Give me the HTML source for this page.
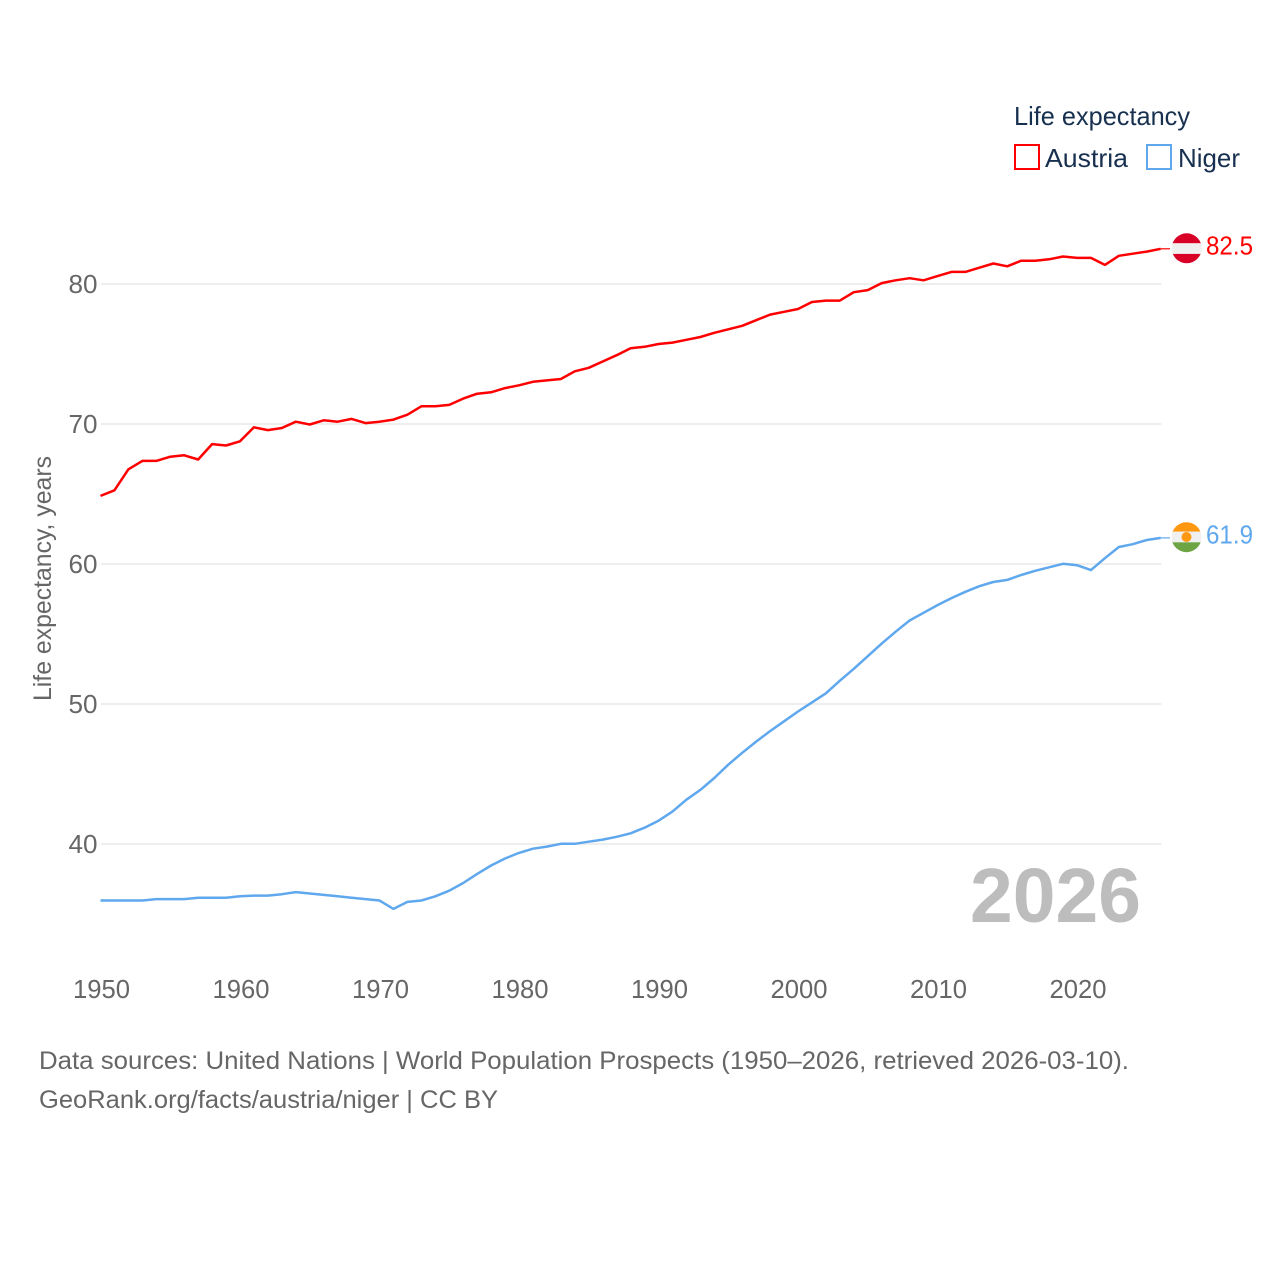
<!DOCTYPE html>
<html lang="en">
<head>
<meta charset="utf-8">
<title>Life expectancy: Austria and Niger</title>
<style>
html,body{margin:0;padding:0;background:#fff;width:1280px;height:1280px;overflow:hidden}
svg{display:block}
text{font-family:"Liberation Sans",sans-serif}
</style>
</head>
<body>
<svg id="chart" xmlns="http://www.w3.org/2000/svg" width="1280" height="1280" viewBox="0 0 1280 1280">
  <defs>
    <clipPath id="flag-clip-top"><circle cx="1186.7" cy="248.3" r="15"></circle></clipPath>
    <clipPath id="flag-clip-bottom"><circle cx="1186.5" cy="537.2" r="15"></circle></clipPath>
  </defs>
  <rect width="1280" height="1280" fill="#fff"></rect>
  <g id="grid"></g>
  <g id="yticks"></g>
  <g id="xticks"></g>
  <text transform="translate(51,701) rotate(-90)" font-size="25" fill="#666" textLength="245" lengthAdjust="spacingAndGlyphs">Life expectancy, years</text>
  <text x="970" y="922" font-size="77" font-weight="700" fill="#bdbdbd" textLength="171" lengthAdjust="spacingAndGlyphs">2026</text>
  <g id="series"></g>

  <g>
    <text x="1014" y="125" font-size="26" fill="#18304f" textLength="176" lengthAdjust="spacingAndGlyphs">Life expectancy</text>
    <g>
      <rect x="1015" y="145" width="24" height="24" fill="none" stroke="#ff0000" stroke-width="2"></rect>
      <text x="1045" y="167" font-size="26" fill="#18304f" textLength="83" lengthAdjust="spacingAndGlyphs">Austria</text>
    </g>
    <g>
      <rect x="1147" y="145" width="24" height="24" fill="none" stroke="#5fa8ee" stroke-width="2"></rect>
      <text x="1178" y="167" font-size="26" fill="#18304f" textLength="62" lengthAdjust="spacingAndGlyphs">Niger</text>
    </g>
  </g>

  <g clip-path="url(#flag-clip-top)">
    <rect x="1171" y="233" width="32" height="10.3" fill="#d80027"></rect>
    <rect x="1171" y="243.3" width="32" height="10.6" fill="#f0f0f0"></rect>
    <rect x="1171" y="253.9" width="32" height="10" fill="#d80027"></rect>
  </g>
  <g clip-path="url(#flag-clip-bottom)">
    <rect x="1171" y="522" width="32" height="9.7" fill="#ff9811"></rect>
    <rect x="1171" y="531.7" width="32" height="10.6" fill="#f0f0f0"></rect>
    <rect x="1171" y="542.3" width="32" height="10.5" fill="#6da544"></rect>
    <circle cx="1186.5" cy="537" r="5" fill="#ff9811"></circle>
  </g>

  <g>
    <text x="39" y="1069" font-size="25" fill="#666" textLength="1090" lengthAdjust="spacingAndGlyphs">Data sources: United Nations | World Population Prospects (1950–2026, retrieved 2026-03-10).</text>
    <text x="39" y="1108" font-size="25" fill="#666" textLength="459" lengthAdjust="spacingAndGlyphs">GeoRank.org/facts/austria/niger | CC BY</text>
  </g>
</svg>
<script>
const yTickValues = [40, 50, 60, 70, 80];
const xTickValues = [1950, 1960, 1970, 1980, 1990, 2000, 2010, 2020];
const firstYear = 1950;
const austriaValues = [
  64.9, 65.3, 66.8, 67.4, 67.4, 67.7, 67.8, 67.5, 68.6, 68.5,
  68.8, 69.8, 69.6, 69.75, 70.2, 70.0, 70.3, 70.2, 70.4, 70.1,
  70.2, 70.35, 70.7, 71.3, 71.3, 71.4, 71.85, 72.2, 72.3, 72.6,
  72.8, 73.05, 73.15, 73.25, 73.8, 74.05, 74.5, 74.95, 75.45, 75.55,
  75.75, 75.85, 76.05, 76.25, 76.55, 76.8, 77.05, 77.45, 77.85, 78.05,
  78.25, 78.75, 78.85, 78.85, 79.45, 79.6, 80.1, 80.3, 80.45, 80.3,
  80.6, 80.9, 80.9, 81.2, 81.5, 81.3, 81.7, 81.7, 81.8, 82.0,
  81.9, 81.9, 81.4, 82.05, 82.2, 82.35, 82.55
];
const nigerValues = [
  36.0, 36.0, 36.0, 36.0, 36.1, 36.1, 36.1, 36.2, 36.2, 36.2,
  36.3, 36.35, 36.35, 36.45, 36.6, 36.5, 36.4, 36.3, 36.2, 36.1,
  36.0, 35.4, 35.9, 36.0, 36.3, 36.7, 37.25, 37.9, 38.5, 39.0,
  39.4, 39.7, 39.85, 40.05, 40.05, 40.2, 40.35, 40.55, 40.8, 41.2,
  41.7, 42.35, 43.2, 43.9, 44.75, 45.7, 46.55, 47.35, 48.1, 48.8,
  49.5, 50.15, 50.8, 51.7, 52.55, 53.45, 54.35, 55.2, 56.0, 56.55,
  57.1, 57.6, 58.05, 58.45, 58.75, 58.9, 59.25, 59.55, 59.8, 60.05,
  59.95, 59.6, 60.45, 61.25, 61.45, 61.75, 61.9
];
const austriaLabel = "82.5";
const nigerLabel = "61.9";

const SVG_NS = "http://www.w3.org/2000/svg";
function xScale(year) { return 100.5 + (year - 1950) * 13.95; }
function yScale(value) { return 284.5 + (80 - value) * 14; }
function make(tag, parent) {
  const el = document.createElementNS(SVG_NS, tag);
  parent.appendChild(el);
  return el;
}
function linePath(values) {
  return values.map((v, i) => (i ? "L" : "M") + xScale(firstYear + i).toFixed(2) + " " + yScale(v).toFixed(2)).join(" ");
}

const gridGroup = document.getElementById("grid");
const yTickGroup = document.getElementById("yticks");
const xTickGroup = document.getElementById("xticks");
const seriesGroup = document.getElementById("series");

yTickValues.forEach(function (v) {
  const line = make("line", gridGroup);
  
  
  line.setAttribute("x1", 101);
  line.setAttribute("x2", 1161.5);
  line.setAttribute("y1", yScale(v) - 0.5);
  line.setAttribute("y2", yScale(v) - 0.5);
  line.setAttribute("stroke", "#eeeeee");
  line.setAttribute("stroke-width", 2);

  const label = make("text", yTickGroup);
  
  
  label.setAttribute("x", 97.5);
  label.setAttribute("y", yScale(v) + 8.5);
  label.setAttribute("text-anchor", "end");
  label.setAttribute("font-size", 26);
  label.setAttribute("textLength", 29);
  label.setAttribute("lengthAdjust", "spacingAndGlyphs");
  label.setAttribute("fill", "#666");
  label.textContent = v;
});

xTickValues.forEach(function (year) {
  const label = make("text", xTickGroup);
  
  
  label.setAttribute("x", xScale(year) + 1);
  label.setAttribute("y", 998);
  label.setAttribute("text-anchor", "middle");
  label.setAttribute("font-size", 26);
  label.setAttribute("textLength", 57);
  label.setAttribute("lengthAdjust", "spacingAndGlyphs");
  label.setAttribute("fill", "#666");
  label.textContent = year;
});

const austriaLine = make("path", seriesGroup);


austriaLine.setAttribute("d", linePath(austriaValues));
austriaLine.setAttribute("fill", "none");
austriaLine.setAttribute("stroke", "#ff0000");
austriaLine.setAttribute("stroke-width", 2.5);
austriaLine.setAttribute("stroke-linejoin", "round");

const nigerLine = make("path", seriesGroup);


nigerLine.setAttribute("d", linePath(nigerValues));
nigerLine.setAttribute("fill", "none");
nigerLine.setAttribute("stroke", "#5fa8ee");
nigerLine.setAttribute("stroke-width", 2.5);
nigerLine.setAttribute("stroke-linejoin", "round");

const austriaEndY = yScale(austriaValues[austriaValues.length - 1]);
const nigerEndY = yScale(nigerValues[nigerValues.length - 1]);

const austriaConnector = make("line", seriesGroup);


austriaConnector.setAttribute("x1", xScale(2026));
austriaConnector.setAttribute("x2", 1170);
austriaConnector.setAttribute("y1", austriaEndY);
austriaConnector.setAttribute("y2", austriaEndY);
austriaConnector.setAttribute("stroke", "#ff0000");
austriaConnector.setAttribute("stroke-width", 1.2);

const nigerConnector = make("line", seriesGroup);


nigerConnector.setAttribute("x1", xScale(2026));
nigerConnector.setAttribute("x2", 1170);
nigerConnector.setAttribute("y1", nigerEndY);
nigerConnector.setAttribute("y2", nigerEndY);
nigerConnector.setAttribute("stroke", "#5fa8ee");
nigerConnector.setAttribute("stroke-width", 1.2);

const austriaValueLabel = make("text", seriesGroup);


austriaValueLabel.setAttribute("x", 1206);
austriaValueLabel.setAttribute("y", 254.5);
austriaValueLabel.setAttribute("font-size", 26);
austriaValueLabel.setAttribute("textLength", 47);
austriaValueLabel.setAttribute("lengthAdjust", "spacingAndGlyphs");
austriaValueLabel.setAttribute("fill", "#ff0000");
austriaValueLabel.textContent = austriaLabel;

const nigerValueLabel = make("text", seriesGroup);


nigerValueLabel.setAttribute("x", 1206);
nigerValueLabel.setAttribute("y", 543.5);
nigerValueLabel.setAttribute("font-size", 26);
nigerValueLabel.setAttribute("textLength", 47);
nigerValueLabel.setAttribute("lengthAdjust", "spacingAndGlyphs");
nigerValueLabel.setAttribute("fill", "#5fa8ee");
nigerValueLabel.textContent = nigerLabel;
</script>
</body>
</html>
